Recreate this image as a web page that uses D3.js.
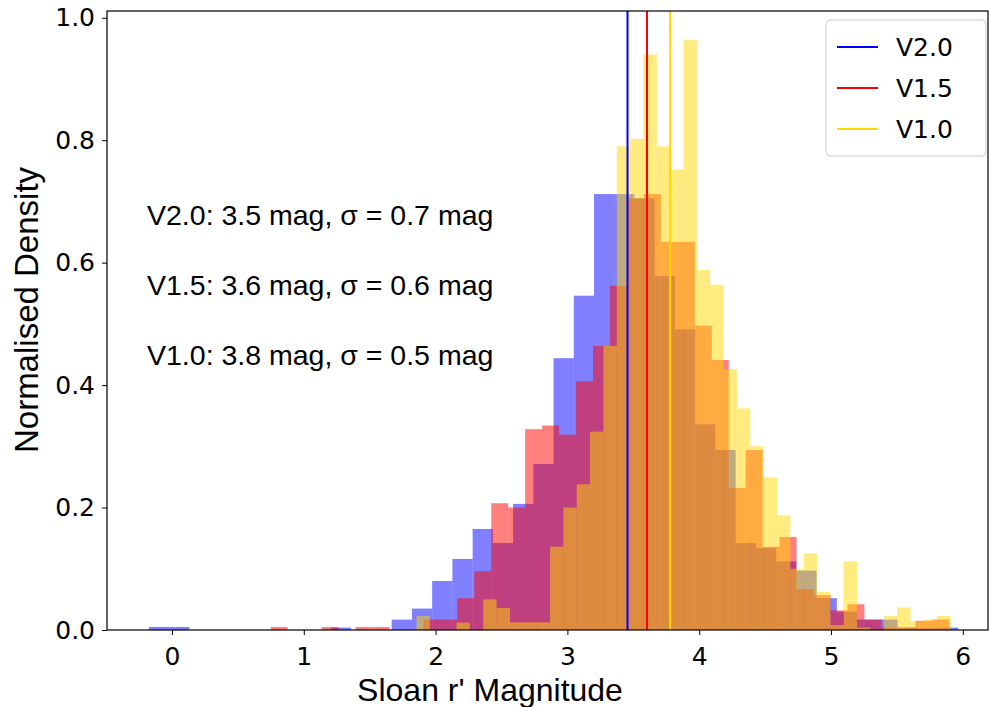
<!DOCTYPE html>
<html>
<head>
<meta charset="utf-8">
<script src="https://cdn.jsdelivr.net/npm/d3@7"></script>
<style>
  body { margin: 0; background: #fff; }
  svg text { fill: #000; }
</style>
</head>
<body>
<svg id="chart" width="990" height="707"></svg>
<script>
// histogram bins (40 equal bins per version, edge = start + i*width)
const blueStart = -0.175, blueWidth = 0.1535;
const redStart = 0.749, redWidth = 0.1287;
const goldStart = 1.855, goldWidth = 0.1013;

const blueHeights = [0.005, 0.005, 0, 0, 0, 0, 0, 0, 0, 0.004,
  0, 0, 0.017, 0.035, 0.080, 0.116, 0.165, 0.142, 0.206, 0.271,
  0.444, 0.546, 0.712, 0.712, 0.705, 0.578, 0.491, 0.336, 0.294, 0.142,
  0.134, 0.112, 0.097, 0.052, 0.030, 0.017, 0.017, 0.004, 0.003, 0.004];

const redHeights = [0.005, 0, 0, 0.005, 0, 0.005, 0.005, 0, 0, 0.017,
  0.017, 0.052, 0.096, 0.207, 0.200, 0.328, 0.334, 0.319, 0.406, 0.464,
  0.562, 0.705, 0.712, 0.634, 0.634, 0.497, 0.441, 0.232, 0.294, 0.136,
  0.152, 0.067, 0.057, 0.032, 0.042, 0.017, 0.004, 0.004, 0.015, 0.017];

const goldHeights = [0.023, 0, 0, 0.012, 0, 0.050, 0.036, 0.0125, 0.0125, 0.0125,
  0.136, 0.200, 0.238, 0.324, 0.464, 0.790, 0.802, 0.940, 0.790, 0.752,
  0.964, 0.588, 0.564, 0.426, 0.362, 0.300, 0.249, 0.187, 0.100, 0.125,
  0.062, 0.008, 0.112, 0.004, 0, 0.023, 0.037, 0.014, 0.017, 0.023];

// mean magnitudes (vertical lines)
const versions = ["V2.0", "V1.5", "V1.0"];
const means = [3.456, 3.604, 3.78];
const sigmas = ["0.7", "0.6", "0.5"];
const meanLabels = ["3.5", "3.6", "3.8"];
const colors = ["blue", "red", "gold"];

const xTicks = [0, 1, 2, 3, 4, 5, 6];
const yTicks = [0, 0.2, 0.4, 0.6, 0.8, 1.0];

const series = [
  {start: blueStart, width: blueWidth, h: blueHeights, color: colors[0]},
  {start: redStart, width: redWidth, h: redHeights, color: colors[1]},
  {start: goldStart, width: goldWidth, h: goldHeights, color: colors[2]}
];

const svg = d3.select("#chart");
const pLeft = 107, pRight = 988, pTop = 11, pBottom = 630;
const sans = "Liberation Sans, Arial, sans-serif";

const x = d3.scaleLinear().domain([-0.493, 6.191]).range([pLeft, pRight]);
const y = d3.scaleLinear().domain([0, 1.011]).range([pBottom, pTop]);

// bars
series.forEach(s => {
  svg.append("g")
    .selectAll("rect")
    .data(s.h.map((v, i) => ({x0: s.start + i * s.width, x1: s.start + (i + 1) * s.width, v: v})).filter(d => d.v > 0))
    .enter().append("rect")
      .attr("x", d => x(d.x0))
      .attr("width", d => x(d.x1) - x(d.x0))
      .attr("y", d => y(d.v))
      .attr("height", d => y(0) - y(d.v))
      .attr("fill", s.color)
      .attr("fill-opacity", 0.5);
});

// mean lines
svg.append("g")
  .selectAll("line")
  .data(means)
  .enter().append("line")
    .attr("x1", d => x(d)).attr("x2", d => x(d))
    .attr("y1", pTop).attr("y2", pBottom)
    .attr("stroke", (d, i) => colors[i])
    .attr("stroke-width", 2);

// axes
const xAxis = svg.append("g")
  .attr("transform", `translate(0,${pBottom})`)
  .call(d3.axisBottom(x).tickValues(xTicks).tickSize(5).tickPadding(12).tickFormat(d3.format("d")));
const yAxis = svg.append("g")
  .attr("transform", `translate(${pLeft},0)`)
  .call(d3.axisLeft(y).tickValues(yTicks).tickSize(5).tickPadding(7).tickFormat(d3.format(".1f")));
[xAxis, yAxis].forEach(a => {
  a.selectAll("text").style("font-family", "DejaVu Sans").style("font-size", "25px");
  a.selectAll("line").attr("stroke", "#000");
  a.select(".domain").remove();
});

// frame
svg.append("rect")
  .attr("x", pLeft).attr("y", pTop)
  .attr("width", pRight - pLeft).attr("height", pBottom - pTop)
  .attr("fill", "none").attr("stroke", "#000").attr("stroke-width", 1.2);

// axis labels
svg.append("text")
  .attr("x", 490).attr("y", 701)
  .attr("text-anchor", "middle")
  .style("font-family", sans)
  .style("font-size", "32px")
  .text("Sloan r' Magnitude");

svg.append("text")
  .attr("transform", "translate(38,310) rotate(-90)")
  .attr("text-anchor", "middle")
  .style("font-family", sans)
  .style("font-size", "33px")
  .text("Normalised Density");

// annotations
svg.append("g")
  .selectAll("text")
  .data(versions)
  .enter().append("text")
    .attr("x", 147)
    .attr("y", (d, i) => 225 + i * 70)
    .style("font-family", sans)
    .style("font-size", "28.5px")
    .text((d, i) => `${d}: ${meanLabels[i]} mag, σ = ${sigmas[i]} mag`);

// legend
const legend = svg.append("g");
legend.append("rect")
  .attr("x", 826).attr("y", 20).attr("width", 160).attr("height", 136)
  .attr("rx", 4)
  .attr("fill", "#fff").attr("fill-opacity", 0.8)
  .attr("stroke", "#ccc");
versions.forEach((v, i) => {
  const ly = 47 + i * 41;
  legend.append("line")
    .attr("x1", 837).attr("x2", 878)
    .attr("y1", ly).attr("y2", ly)
    .attr("stroke", colors[i]).attr("stroke-width", 2);
  legend.append("text")
    .attr("x", 896).attr("y", ly + 9)
    .style("font-family", "DejaVu Sans")
    .style("font-size", "25px")
    .text(v);
});
</script>
</body>
</html>
